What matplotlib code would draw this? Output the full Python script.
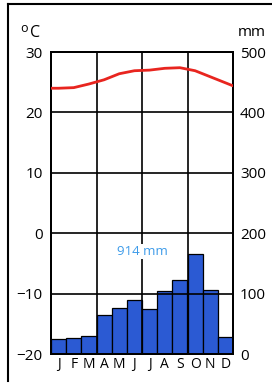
import numpy as np
import matplotlib
matplotlib.use("Agg")
from matplotlib import pyplot as plt
from matplotlib.lines import Line2D

# monthly climate data
months = ['J', 'F', 'M', 'A', 'M', 'J', 'J', 'A', 'S', 'O', 'N', 'D']
temp_c = [24.0, 24.1, 24.7, 25.4, 26.4, 26.9, 27.0, 27.3, 27.4, 26.9, 25.9, 24.9]
precip_mm = [25, 27, 30, 64, 76, 90, 75, 104, 123, 166, 106, 28]
temp_ticks = [-20, -10, 0, 10, 20, 30]
precip_ticks = [0, 100, 200, 300, 400, 500]
total_label = '914 mm'

plt.rcParams['font.family'] = ['Open Sans', 'DejaVu Sans']

fig = plt.figure(figsize=(2.72, 3.85), dpi=100)
ax = fig.add_axes([51 / 272, 1 - 354 / 385, 182 / 272, 302 / 385])
ax2 = ax.twinx()

# bars on the right (mm) axis, drawn underneath the temperature axes
x = np.arange(len(months))
ax2.bar(x + 0.5, precip_mm, width=1.0, color='#2b5ad3', edgecolor='black', linewidth=0.9)
ax2.set_ylim(0, 500)
ax2.set_yticks(precip_ticks)
ax.set_zorder(ax2.get_zorder() + 1)
ax.patch.set_visible(False)

# temperature curve, extended to the plot edges
tx = np.r_[0, x + 0.5, 12]
ty = np.r_[temp_c[0], temp_c, 24.4]
ax.plot(tx, ty, color='#e8251f', lw=2, solid_capstyle='round', zorder=4)
ax.set_xlim(0, 12)
ax.set_ylim(-20, 30)
ax.set_yticks(temp_ticks)

for t in temp_ticks[1:-1]:
    ax.axhline(t, color='black', lw=1.2, zorder=1)
for m in (3, 6, 9):
    ax.axvline(m, color='black', lw=1.2, zorder=1)

ax.text(6, -3, total_label, color='#3d9be9', fontsize=9.5, ha='center', va='center',
        zorder=5, bbox=dict(facecolor='white', edgecolor='none', pad=0.8))

# axis cosmetics
for a in (ax, ax2):
    for s in a.spines.values():
        s.set_linewidth(1.4)
ax.tick_params(axis='y', length=0, pad=6, labelsize=11)
ax2.tick_params(axis='y', length=0, pad=5, labelsize=11)
ax.set_xticks(np.arange(13))
ax.set_xticklabels([])
ax.set_xticks(x + 0.5, minor=True)
ax.set_xticklabels(months, minor=True)
ax.tick_params(axis='x', which='major', length=5, width=1.2, direction='out')
ax.tick_params(axis='x', which='minor', length=0, pad=2.5, labelsize=10)
ax2.set_xticks([])

# unit labels
fig.text(20 / 272, 1 - 28 / 385, 'o', fontsize=9, ha='left', va='center')
fig.text(30 / 272, 1 - 33 / 385, 'C', fontsize=11.5, ha='left', va='center')
fig.text(238 / 272, 1 - 33 / 385, 'mm', fontsize=11, ha='left', va='center')

# frame edges of the original panel
fig.add_artist(Line2D([7.5 / 272, 7.5 / 272], [0.01, 1 - 4 / 385], color='black', lw=1.5))
fig.add_artist(Line2D([7.5 / 272, 1.0], [1 - 4 / 385, 1 - 4 / 385], color='black', lw=1.5))

fig.savefig('out.png', dpi=100)
